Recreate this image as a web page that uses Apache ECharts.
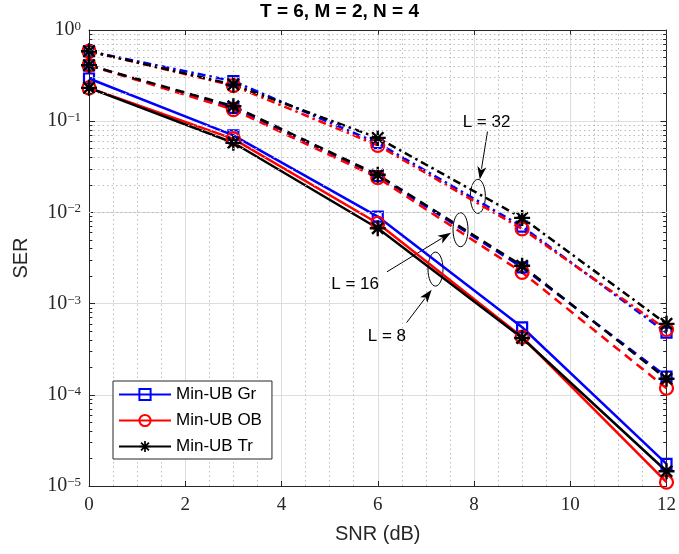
<!DOCTYPE html>
<html>
<head>
<meta charset="utf-8">
<script src="https://cdn.jsdelivr.net/npm/echarts@6/dist/echarts.min.js"></script>
<style>
html,body{margin:0;padding:0;background:#fff;}
#chart{width:679px;height:554px;}
</style>
</head>
<body>
<div id="chart"></div>
<script>
// ---- data ----
var snr = [0, 3, 6, 9, 12];
var xTicks = [0, 2, 4, 6, 8, 10, 12];
var yTicks = [1e-5, 1e-4, 1e-3, 1e-2, 1e-1, 1];

// L = 8 (solid)
var grL8 = [0.294, 0.070, 0.0090, 5.5e-4, 1.75e-5];
var obL8 = [0.232, 0.064, 0.0076, 4.3e-4, 1.1e-5];
var trL8 = [0.232, 0.058, 0.0067, 4.2e-4, 1.45e-5];
// L = 16 (dashed)
var grL16 = [0.41, 0.140, 0.0250, 0.0025, 1.58e-4];
var obL16 = [0.41, 0.134, 0.0240, 0.0022, 1.18e-4];
var trL16 = [0.41, 0.146, 0.0259, 0.0026, 1.50e-4];
// L = 32 (dash-dot)
var grL32 = [0.585, 0.275, 0.0575, 0.0070, 4.8e-4];
var obL32 = [0.585, 0.246, 0.0544, 0.0066, 5.2e-4];
var trL32 = [0.585, 0.252, 0.0656, 0.0087, 6.0e-4];

var legendNames = ['Min-UB Gr', 'Min-UB OB', 'Min-UB Tr'];
var titleText = 'T = 6, M = 2, N = 4';

// annotations (data coordinates)
var annotations = [
  {text: 'L = 32', textAt: [8.26, 0.0966], from: [8.28, 0.0769], to: [8.12, 0.0229], ellipse: [8.08, 0.0150]},
  {text: 'L = 16', textAt: [5.53, 0.00161], from: [6.19, 0.00223], to: [7.52, 0.00598], ellipse: [7.72, 0.00646]},
  {text: 'L = 8',  textAt: [6.19, 0.000438], from: [6.60, 0.00062], to: [7.12, 0.00142], ellipse: [7.20, 0.00239]}
];

// minor grid values for log axis
var minorY = [];
for (var k = -5; k < 0; k++) {
  for (var m = 2; m <= 9; m++) minorY.push(m * Math.pow(10, k));
}

var STAR = 'path://M-1,-0.15L1,-0.15L1,0.15L-1,0.15Z' +
  'M-0.15,-1L0.15,-1L0.15,1L-0.15,1Z' +
  'M-0.601,-0.813L0.813,0.601L0.601,0.813L-0.813,-0.601Z' +
  'M-0.813,0.601L0.601,-0.813L0.813,-0.601L-0.601,0.813Z';

var BLUE = '#0000ff', RED = '#ff0000', BLACK = '#000000';
var styles = {
  'Min-UB Gr': {color: BLUE, symbol: 'rect', size: 10, item: {color: 'rgba(0,0,0,0)', borderColor: BLUE, borderWidth: 2.2}},
  'Min-UB OB': {color: RED, symbol: 'circle', size: 13, item: {color: 'rgba(0,0,0,0)', borderColor: RED, borderWidth: 2.2}},
  'Min-UB Tr': {color: BLACK, symbol: STAR, size: 16, item: {color: BLACK, borderWidth: 0}}
};
var dashTypes = {solid: 'solid', dashed: [9, 6], dashdot: [8, 4, 2.5, 4]};

function mk(name, values, dash) {
  var s = styles[name];
  return {
    name: name,
    type: 'line',
    data: snr.map(function (x, i) { return [x, values[i]]; }),
    symbol: s.symbol,
    symbolSize: s.size,
    showAllSymbol: true,
    lineStyle: {color: s.color, width: 2.5, type: dashTypes[dash]},
    itemStyle: s.item,
    emphasis: {disabled: true},
    animation: false,
    z: 3
  };
}

var series = [
  mk('Min-UB Gr', grL8, 'solid'),
  mk('Min-UB OB', obL8, 'solid'),
  mk('Min-UB Tr', trL8, 'solid'),
  mk('Min-UB Gr', grL16, 'dashed'),
  mk('Min-UB OB', obL16, 'dashed'),
  mk('Min-UB Tr', trL16, 'dashed'),
  mk('Min-UB Gr', grL32, 'dashdot'),
  mk('Min-UB OB', obL32, 'dashdot'),
  mk('Min-UB Tr', trL32, 'dashdot')
];
// minor log grid lines (dotted) and minor ticks
var minorTickSegs = [];
minorY.forEach(function (v) {
  minorTickSegs.push([{coord: [xTicks[0], v]}, {coord: [xTicks[0] + 0.07, v]}]);
  minorTickSegs.push([{coord: [xTicks[xTicks.length - 1] - 0.07, v]}, {coord: [xTicks[xTicks.length - 1], v]}]);
});
series.push({
  name: 'minor-grid',
  type: 'line',
  data: [],
  silent: true,
  z: 0,
  markLine: {
    silent: true,
    symbol: ['none', 'none'],
    label: {show: false},
    animation: false,
    lineStyle: {color: '#bdbdbd', type: [1.5, 3], width: 1},
    data: minorY.map(function (v) { return {yAxis: v}; })
  }
});
series.push({
  name: 'minor-ticks',
  type: 'line',
  data: [],
  silent: true,
  z: 5,
  markLine: {
    silent: true,
    symbol: ['none', 'none'],
    label: {show: false},
    animation: false,
    lineStyle: {color: '#262626', type: 'solid', width: 1},
    data: minorTickSegs
  }
});

var AXIS = '#262626';
var SERIF = '"Liberation Serif", "DejaVu Serif", serif';
var SANS = '"Liberation Sans", Arial, Helvetica, sans-serif';
var SUP = {'-5': '−5', '-4': '−4', '-3': '−3', '-2': '−2', '-1': '−1', '0': '0'};

var chart = echarts.init(document.getElementById('chart'), null, {renderer: 'canvas'});
var option = {
  backgroundColor: '#ffffff',
  animation: false,
  title: {
    text: titleText,
    left: 'center',
    top: 2,
    padding: [0, 0, 0, 79],
    textStyle: {fontFamily: SANS, fontWeight: 'bold', fontSize: 19, color: '#000'}
  },
  legend: {
    data: legendNames,
    orient: 'vertical',
    left: 113,
    top: 381,
    itemWidth: 52,
    itemHeight: 14,
    itemGap: 9,
    padding: [5, 10, 4, 5],
    backgroundColor: '#fff',
    borderColor: AXIS,
    borderWidth: 1,
    borderRadius: 0,
    textStyle: {fontFamily: SANS, fontSize: 17, color: '#000'}
  },
  grid: {left: 89, right: 10, top: 30, bottom: 68, containLabel: false},
  xAxis: [{
    type: 'value',
    min: xTicks[0],
    max: xTicks[xTicks.length - 1],
    interval: 2,
    name: 'SNR (dB)',
    nameLocation: 'middle',
    nameGap: 38,
    nameTextStyle: {fontFamily: SANS, fontSize: 20, color: AXIS},
    axisLine: {show: true, onZero: false, lineStyle: {color: AXIS, width: 1}},
    axisTick: {show: true, inside: true, length: 5, lineStyle: {color: AXIS}},
    axisLabel: {fontFamily: SERIF, fontSize: 19, color: AXIS, margin: 10},
    splitLine: {show: true, lineStyle: {color: '#dedede', width: 1}},
    minorTick: {show: false, splitNumber: 4},
    minorSplitLine: {show: true, lineStyle: {color: '#bdbdbd', type: [1.5, 3], width: 1}}
  }, {
    type: 'value',
    position: 'top',
    min: xTicks[0],
    max: xTicks[xTicks.length - 1],
    interval: 2,
    axisLine: {show: true, onZero: false, lineStyle: {color: AXIS, width: 1}},
    axisTick: {show: true, inside: true, length: 5, lineStyle: {color: AXIS}},
    axisLabel: {show: false},
    splitLine: {show: false}
  }],
  yAxis: [{
    type: 'log',
    logBase: 10,
    min: yTicks[0],
    max: yTicks[yTicks.length - 1],
    name: 'SER',
    nameLocation: 'middle',
    nameGap: 58,
    nameRotate: 90,
    nameTextStyle: {fontFamily: SANS, fontSize: 20, color: AXIS},
    axisLine: {show: true, onZero: false, lineStyle: {color: AXIS, width: 1}},
    axisTick: {show: true, inside: true, length: 6, lineStyle: {color: AXIS}},
    axisLabel: {
      margin: 8,
      formatter: function (v) {
        var e = Math.round(Math.log(v) / Math.LN10);
        return '{b|10}{s|' + SUP[String(e)] + '}';
      },
      rich: {
        b: {fontFamily: SERIF, fontSize: 20, color: AXIS, verticalAlign: 'bottom', lineHeight: 20},
        s: {fontFamily: SERIF, fontSize: 13, color: AXIS, verticalAlign: 'top', lineHeight: 13, padding: [0, 0, 11, 0]}
      }
    },
    splitLine: {show: true, lineStyle: {color: '#dedede', width: 1}}
  }, {
    type: 'log',
    logBase: 10,
    position: 'right',
    min: yTicks[0],
    max: yTicks[yTicks.length - 1],
    axisLine: {show: true, onZero: false, lineStyle: {color: AXIS, width: 1}},
    axisTick: {show: true, inside: true, length: 6, lineStyle: {color: AXIS}},
    axisLabel: {show: false},
    splitLine: {show: false}
  }],
  series: series
};
chart.setOption(option);

// annotations placed through the chart's coordinate system
function px(p) { return chart.convertToPixel({xAxisIndex: 0, yAxisIndex: 0}, p); }
var graphics = [];
annotations.forEach(function (a) {
  var t = px(a.textAt), f = px(a.from), to = px(a.to), e = px(a.ellipse);
  graphics.push({
    type: 'text', x: t[0], y: t[1], silent: true,
    style: {text: a.text, font: '17px ' + SANS, fill: '#000', textAlign: 'center', textVerticalAlign: 'middle'}
  });
  var dx = to[0] - f[0], dy = to[1] - f[1], len = Math.sqrt(dx * dx + dy * dy);
  var ux = dx / len, uy = dy / len, hl = 13, hw = 4.5;
  var bx = to[0] - ux * hl, by = to[1] - uy * hl;
  graphics.push({
    type: 'line', silent: true,
    shape: {x1: f[0], y1: f[1], x2: bx + ux * 2, y2: by + uy * 2},
    style: {stroke: '#000', lineWidth: 1}
  });
  graphics.push({
    type: 'polygon', silent: true,
    shape: {points: [[to[0], to[1]], [bx - uy * hw, by + ux * hw], [to[0] - ux * hl * 0.75, to[1] - uy * hl * 0.75], [bx + uy * hw, by - ux * hw]]},
    style: {fill: '#000'}
  });
  graphics.push({
    type: 'ellipse', silent: true,
    shape: {cx: e[0], cy: e[1], rx: 7.5, ry: 17},
    style: {fill: 'none', stroke: '#000', lineWidth: 1}
  });
});
chart.setOption({graphic: graphics});
</script>
</body>
</html>
